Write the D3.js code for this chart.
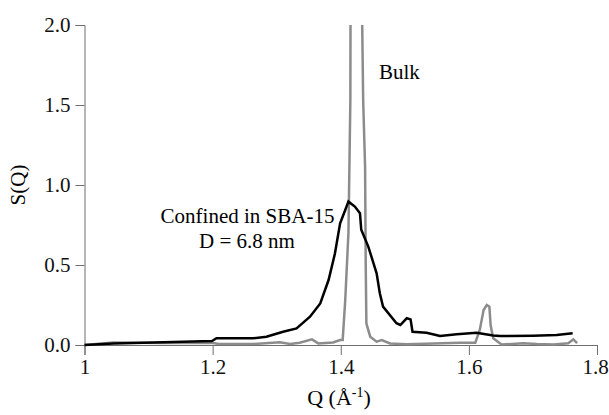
<!DOCTYPE html>
<html lang="en">
<head>
  <meta charset="UTF-8">
  <title>S(Q)</title>
</head>
<body style="margin:0; background:#fff">
  <script src="https://d3js.org/d3.v7.min.js"></script>
  <div id="my_dataviz"></div>
  <script>
    // data
    var confinedQ = [1.000, 1.045, 1.123, 1.199, 1.206, 1.263, 1.284, 1.310, 1.331, 1.352, 1.368, 1.381, 1.391, 1.399,
      1.407, 1.412, 1.422, 1.430, 1.432, 1.443, 1.456, 1.461, 1.466, 1.487, 1.493, 1.503, 1.509, 1.512, 1.534, 1.555,
      1.581, 1.612, 1.638, 1.649, 1.700, 1.737, 1.762]
    var confinedS = [0.000, 0.010, 0.017, 0.025, 0.042, 0.042, 0.052, 0.083, 0.104, 0.177, 0.260, 0.406, 0.573, 0.760,
      0.844, 0.896, 0.865, 0.823, 0.720, 0.615, 0.448, 0.323, 0.240, 0.136, 0.125, 0.167, 0.160, 0.083, 0.077, 0.056,
      0.067, 0.077, 0.060, 0.056, 0.058, 0.062, 0.073]

    var bulkQ = [1.000, 1.045, 1.120, 1.200, 1.210, 1.263, 1.305, 1.321, 1.336, 1.355, 1.365, 1.388, 1.399, 1.403,
      1.407, 1.412, 1.415, 1.4155, 1.424, 1.432, 1.4335, 1.435, 1.438, 1.439, 1.440, 1.446, 1.456, 1.464, 1.477,
      1.503, 1.545, 1.586, 1.610, 1.617, 1.623, 1.628, 1.632, 1.634, 1.638, 1.651, 1.685, 1.706, 1.732, 1.755,
      1.763, 1.769]
    var bulkS = [0.000, 0.015, 0.012, 0.012, 0.006, 0.006, 0.017, 0.006, 0.014, 0.035, 0.010, 0.016, 0.031, 0.031,
      0.280, 0.700, 1.530, 2.600, 6.000, 2.600, 2.000, 1.530, 1.110, 0.490, 0.136, 0.052, 0.021, 0.031, 0.010,
      0.004, 0.010, 0.014, 0.014, 0.094, 0.219, 0.250, 0.240, 0.122, 0.042, 0.003, 0.011, 0.006, 0.003, 0.011,
      0.035, 0.011]

    var xTicks = [1, 1.2, 1.4, 1.6, 1.8]
    var xTickLabels = ["1", "1.2", "1.4", "1.6", "1.8"]
    var yTicks = [0, 0.5, 1, 1.5, 2]
    var yTickLabels = ["0.0", "0.5", "1.0", "1.5", "2.0"]

    var serif = "'Liberation Serif'"

    var margin = { top: 25, right: 12, bottom: 70, left: 84.5 },
      height = 415 - margin.top - margin.bottom;

    var svg = d3.select("#my_dataviz")
      .append("svg")
      .attr("width", 609)
      .attr("height", 415)
      .append("g")
      .attr("transform", "translate(" + margin.left + "," + margin.top + ")");

    var x = d3.scaleLinear().domain([1, 1.8]).range([0, 512.5])
    var y = d3.scaleLinear().domain([0, 2]).range([height, 0])

    svg.append("clipPath").attr("id", "plotclip")
      .append("rect")
      .attr("x", -3).attr("y", 0)
      .attr("width", x(1.8) + 6).attr("height", height + 4)

    // axes
    var xAxis = svg.append("g")
      .attr("transform", "translate(0," + height + ")")
      .call(d3.axisBottom(x).tickValues(xTicks).tickSizeOuter(0).tickSize(10).tickPadding(4)
        .tickFormat(function (d, i) { return xTickLabels[i]; }))

    var yAxis = svg.append("g")
      .call(d3.axisLeft(y).tickValues(yTicks).tickSizeOuter(0).tickSize(9).tickPadding(5)
        .tickFormat(function (d, i) { return yTickLabels[i]; }))

    ;[xAxis, yAxis].forEach(function (g) {
      g.selectAll("path, line").style("stroke", "#6e6e6e").style("stroke-width", 1)
      g.selectAll("text")
        .style("font-family", serif)
        .style("font-size", "21px")
        .style("fill", "#111")
    })
    // keep the last x label inside the frame
    xAxis.selectAll(".tick text").filter(function (d) { return d === 1.8; }).attr("dx", -2)

    var line = d3.line()
      .x(function (d) { return x(d[0]); })
      .y(function (d) { return y(d[1]); })

    var plot = svg.append("g").attr("clip-path", "url(#plotclip)")

    plot.append("path")
      .datum(bulkQ.map(function (q, i) { return [q, bulkS[i]]; }))
      .attr("d", line)
      .style("fill", "none")
      .style("stroke", "#8c8c8c")
      .style("stroke-width", 2.5)

    plot.append("path")
      .datum(confinedQ.map(function (q, i) { return [q, confinedS[i]]; }))
      .attr("d", line)
      .style("fill", "none")
      .style("stroke", "#000")
      .style("stroke-width", 2.5)

    // axis titles
    svg.append("text")
      .attr("transform", "rotate(-90)")
      .attr("x", -(185 - margin.top))
      .attr("y", -margin.left + 25)
      .style("text-anchor", "middle")
      .style("font-family", serif)
      .style("font-size", "21px")
      .text("S(Q)")

    var xl = svg.append("text")
      .attr("x", 339 - margin.left)
      .attr("y", 405 - margin.top)
      .style("text-anchor", "middle")
      .style("font-family", serif)
      .style("font-size", "22px")
    xl.append("tspan").text("Q (Å")
    xl.append("tspan").attr("dy", -8).style("font-size", "14px").text("-1")
    xl.append("tspan").attr("dy", 8).text(")")

    // annotations
    svg.append("text")
      .attr("x", 379 - margin.left)
      .attr("y", 79 - margin.top)
      .style("font-family", serif)
      .style("font-size", "21px")
      .text("Bulk")

    svg.append("text")
      .attr("x", 247.5 - margin.left)
      .attr("y", 223 - margin.top)
      .style("text-anchor", "middle")
      .style("font-family", serif)
      .style("font-size", "21px")
      .text("Confined in SBA-15")

    svg.append("text")
      .attr("x", 247 - margin.left)
      .attr("y", 248 - margin.top)
      .style("text-anchor", "middle")
      .style("font-family", serif)
      .style("font-size", "21px")
      .text("D = 6.8 nm")
  </script>
</body>
</html>
